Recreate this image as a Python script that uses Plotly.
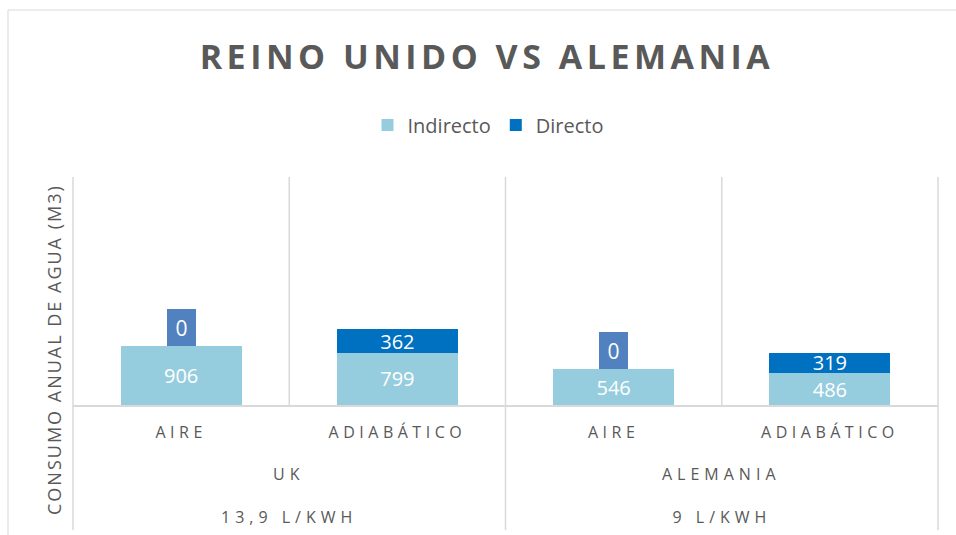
import plotly.graph_objects as go

# ---------------- data ----------------
subcats = ["AIRE", "ADIABÁTICO", "AIRE", "ADIABÁTICO"]
groups = ["UK", "ALEMANIA"]
group_factors = ["13,9 L/KWH", "9 L/KWH"]
group_members = [[0, 1], [2, 3]]
indirecto = [906, 799, 546, 486]
directo = [0, 362, 0, 319]
series_names = ["Indirecto", "Directo"]
title_text = "REINO UNIDO VS ALEMANIA"
y_title = "CONSUMO ANUAL DE AGUA (M3)"
y_max = 3500

# ---------------- layout constants ----------------
W, H = 956, 535
L, R, T, B = 73, 18, 177, 130
PW, PH = W - L - R, H - T - B
GRAY = "#595959"
GRID = "#D9D9D9"
C_IND = "#96CDDE"
C_DIR = "#0070C0"
C_ZERO = "#5181BE"
FONT = "Open Sans"


def pxx(px):
    return (px - L) / PW


def pxy(py):
    return (H - B - py) / PH


x = list(range(len(subcats)))

fig = go.Figure()
fig.add_bar(
    x=x, y=indirecto, name=series_names[0], width=0.56,
    marker=dict(color=C_IND, line=dict(width=0)),
    text=[str(v) for v in indirecto], textposition="inside",
    insidetextanchor="middle",
    textfont=dict(color="white", size=20, family=FONT),
    hoverinfo="skip",
)
fig.add_bar(
    x=x, y=directo, name=series_names[1], width=0.56,
    marker=dict(color=C_DIR, line=dict(width=0)),
    text=[str(v) if v else "" for v in directo], textposition="inside",
    insidetextanchor="middle",
    textfont=dict(color="white", size=20, family=FONT),
    hoverinfo="skip",
)

annotations = []
spaced_idx = []
# zero-value labels drawn as boxed labels above the stack
for i, (a, d) in enumerate(zip(indirecto, directo)):
    if d == 0:
        annotations.append(dict(
            x=i, y=a + d, xref="x", yref="y", text=str(d), showarrow=False,
            yanchor="bottom", xanchor="center",
            font=dict(color="white", size=21, family=FONT),
            bgcolor=C_ZERO, borderpad=5, borderwidth=0, width=19, height=27,
        ))
# group labels (level 2 and 3)
for g, f, mem in zip(groups, group_factors, group_members):
    cx = sum(mem) / len(mem)
    spaced_idx.append(len(annotations))
    annotations.append(dict(
        x=cx, y=pxy(474), xref="x", yref="paper", text=g, showarrow=False,
        yanchor="middle", xanchor="center",
        font=dict(color=GRAY, size=16, family=FONT),
    ))
    spaced_idx.append(len(annotations))
    annotations.append(dict(
        x=cx, y=pxy(517), xref="x", yref="paper", text=f, showarrow=False,
        yanchor="middle", xanchor="center",
        font=dict(color=GRAY, size=16, family=FONT),
    ))
# y title
ytitle_idx = len(annotations)
annotations.append(dict(
    x=pxx(54), y=pxy(350), xref="paper", yref="paper", text=y_title,
    showarrow=False, textangle=-90, xanchor="center", yanchor="middle",
    font=dict(color=GRAY, size=18, family=FONT),
))

shapes = []
# outer chart border (left/top visible)
shapes.append(dict(type="rect", xref="paper", yref="paper",
                   x0=pxx(8), x1=pxx(970), y0=pxy(545), y1=pxy(10),
                   line=dict(color=GRID, width=1), layer="below"))
# vertical gridlines at category boundaries
n = len(subcats)
for k in range(n + 1):
    xb = k / n
    is_group_edge = k in (0, n) or k == len(group_members[0])
    shapes.append(dict(type="line", xref="paper", yref="paper",
                       x0=xb, x1=xb, y0=pxy(530) if is_group_edge else 0, y1=1,
                       line=dict(color=GRID, width=1.5), layer="below"))

fig.update_layout(
    width=W, height=H,
    margin=dict(l=L, r=R, t=T, b=B, pad=0),
    paper_bgcolor="white", plot_bgcolor="white",
    barmode="stack",
    showlegend=True,
    title=dict(text=title_text, xref="container", x=487 / W, xanchor="center",
               yref="container", y=1 - 57 / H, yanchor="middle",
               font=dict(family=FONT, size=34, color=GRAY, weight=700)),
    legend=dict(orientation="h", xref="container", x=488 / W, xanchor="center",
                yref="container", y=1 - 125 / H, yanchor="middle",
                font=dict(family=FONT, size=20, color=GRAY),
                traceorder="normal", itemwidth=30, bgcolor="rgba(0,0,0,0)"),
    xaxis=dict(range=[-0.5, n - 0.5], tickvals=x, ticktext=subcats,
               showgrid=False, zeroline=False, showline=True,
               linecolor=GRID, linewidth=2, ticks="",
               tickfont=dict(family=FONT, size=16, color=GRAY),
               ticklabelstandoff=12, fixedrange=True),
    yaxis=dict(range=[0, y_max], visible=False, fixedrange=True),
    uniformtext=dict(minsize=20, mode="show"),
    annotations=annotations,
    shapes=shapes,
)

css = "html,body{margin:0;padding:0}"
css += ".xtick text{letter-spacing:4.5px}"
for i in spaced_idx:
    css += '.annotation[data-index="%d"] text{letter-spacing:5px}' % i
css += '.annotation[data-index="%d"] text{letter-spacing:2px}' % ytitle_idx
css += ".gtitle{letter-spacing:4.5px}"
post = ("var st=document.createElement('style');st.textContent='%s';"
        "document.head.appendChild(st);" % css)

fig.write_html("out.html", post_script=post, config={"displayModeBar": False})
